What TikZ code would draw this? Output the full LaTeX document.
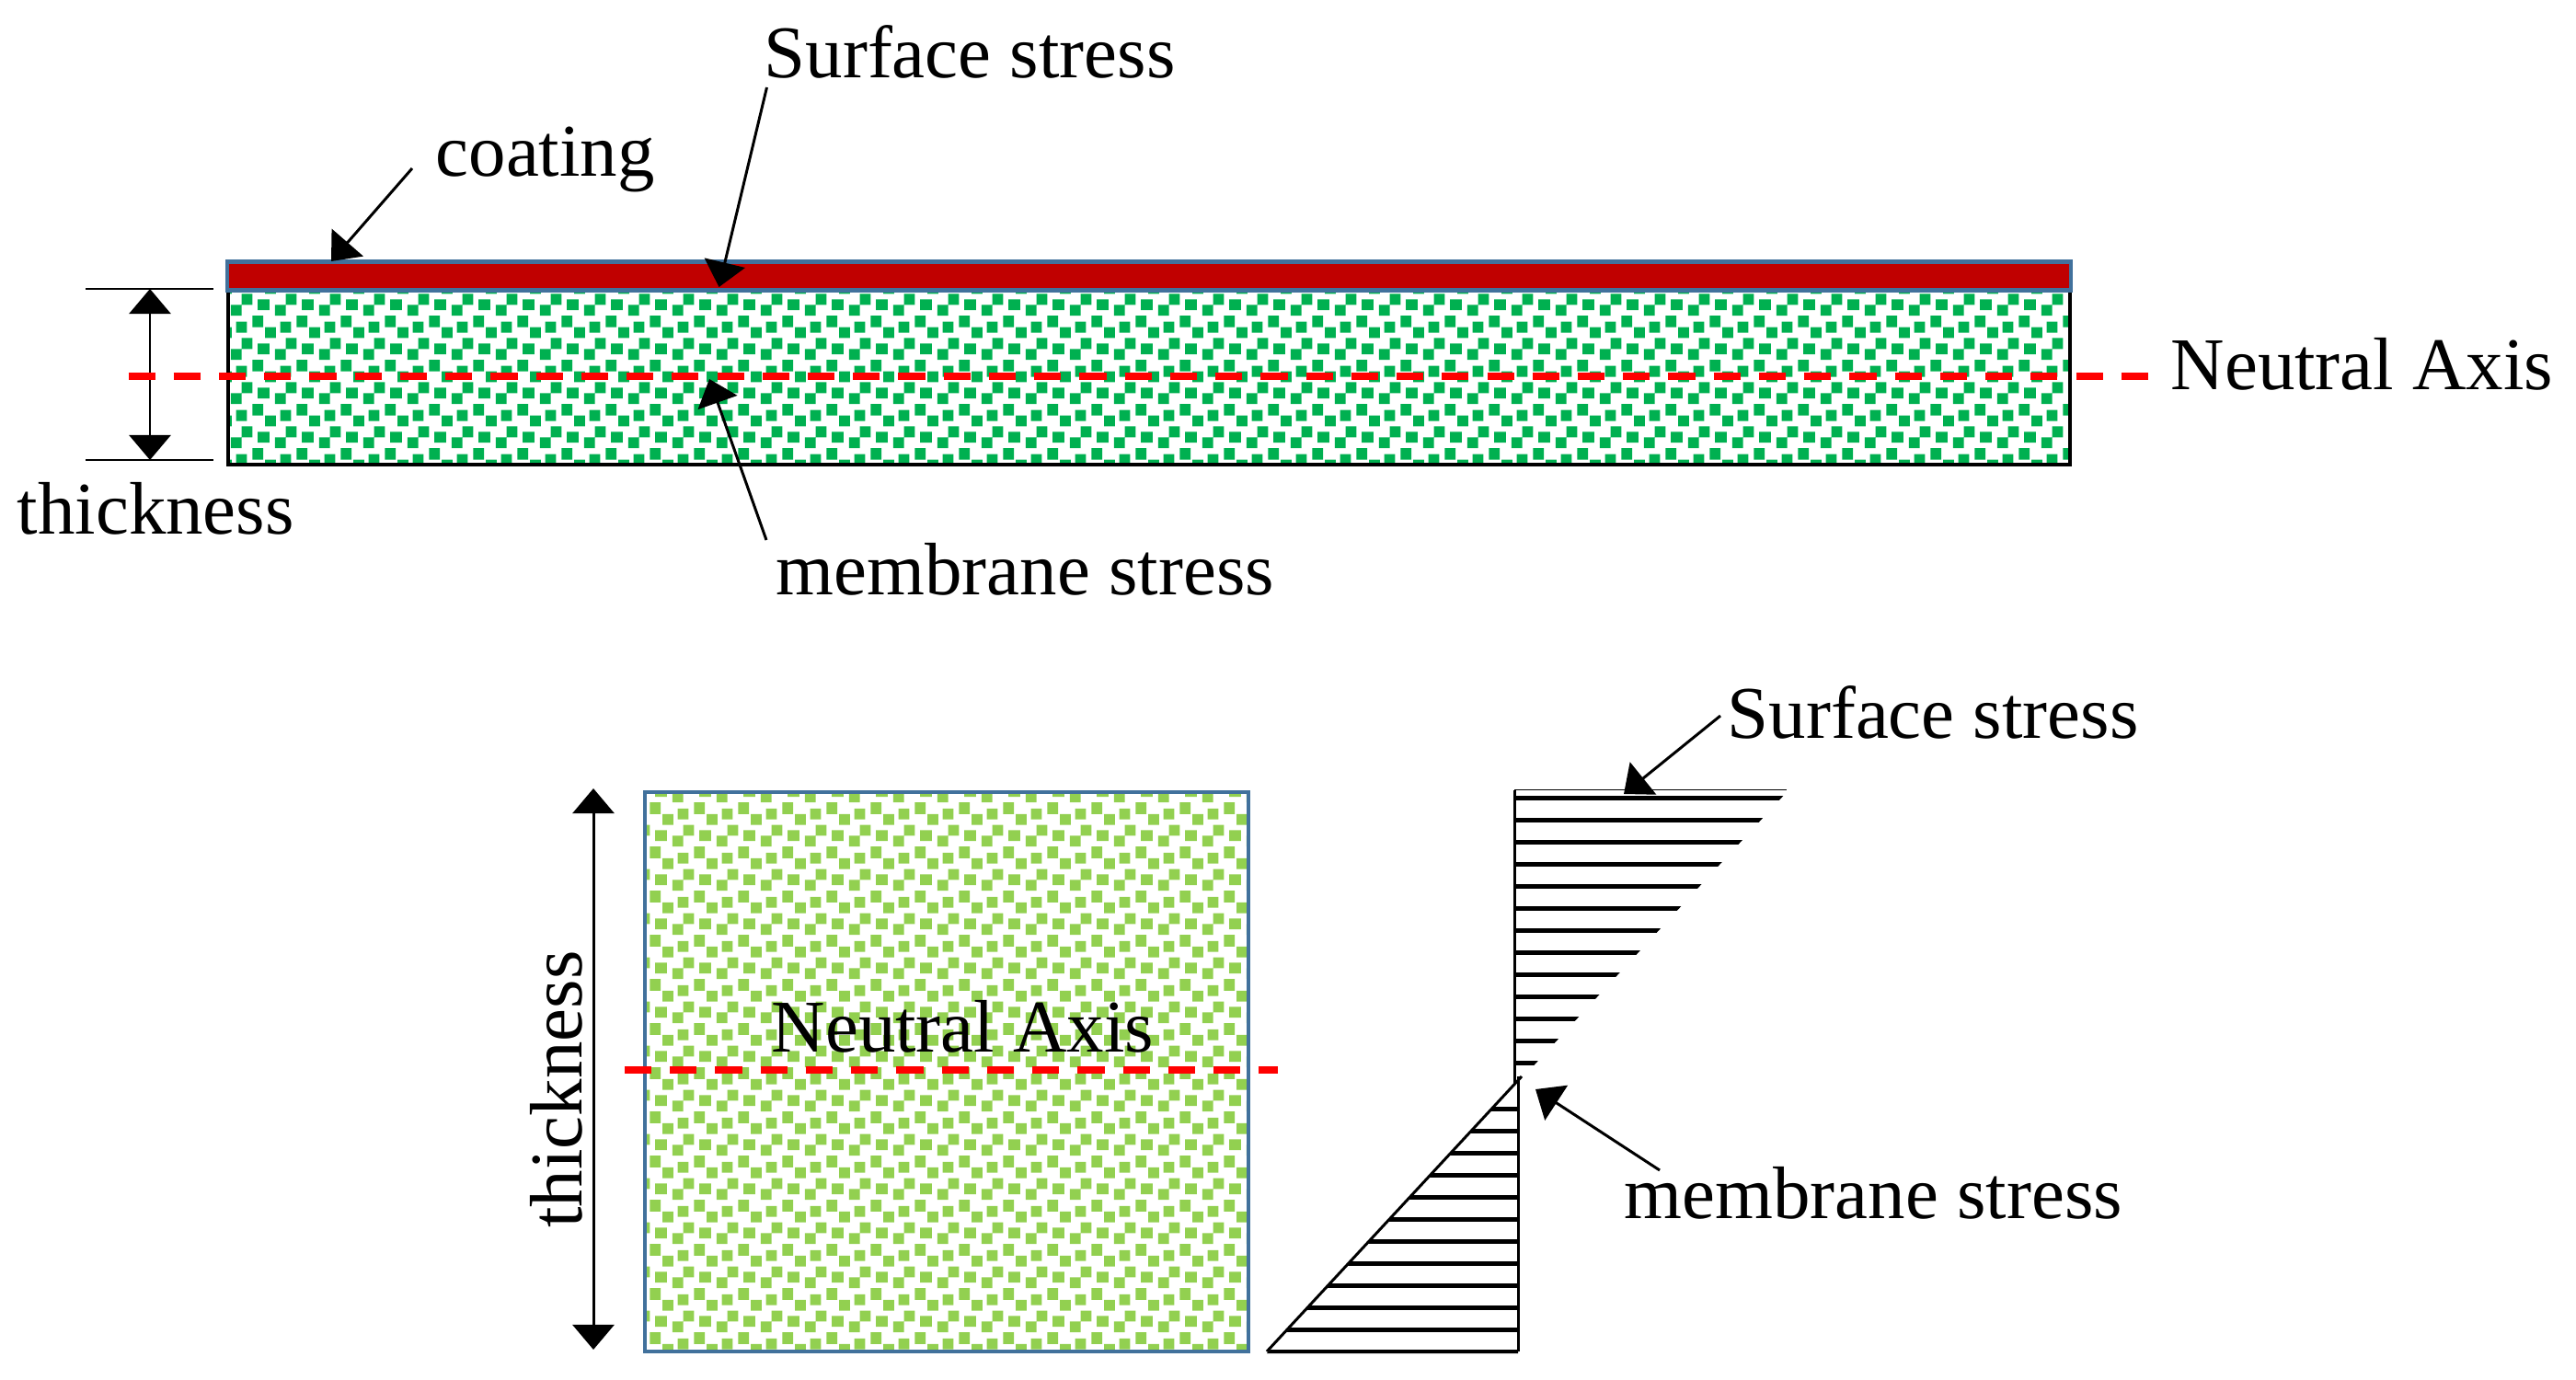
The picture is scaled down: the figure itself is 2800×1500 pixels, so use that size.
\documentclass[tikz,border=0pt]{standalone}
\usepackage{fontspec}
\setmainfont{Liberation Serif}
\usetikzlibrary{arrows.meta,patterns}
\definecolor{cgreen}{HTML}{00B050}
\definecolor{lgreen}{HTML}{92D050}
\definecolor{cred}{HTML}{C00000}
\definecolor{cblue}{HTML}{41719C}
\newdimen\cfpx \cfpx=0.28453pt
\pgfdeclarepatternformonly{confetti}{\pgfpointorigin}{\pgfpoint{48\cfpx}{48\cfpx}}{\pgfpoint{48\cfpx}{48\cfpx}}{%
  \pgfpathrectangle{\pgfpoint{0\cfpx}{29\cfpx}}{\pgfpoint{12\cfpx}{12\cfpx}}%
  \pgfpathrectangle{\pgfpoint{17\cfpx}{35\cfpx}}{\pgfpoint{12\cfpx}{12\cfpx}}%
  \pgfpathrectangle{\pgfpoint{35\cfpx}{-7\cfpx}}{\pgfpoint{12\cfpx}{12\cfpx}}%
  \pgfpathrectangle{\pgfpoint{35\cfpx}{41\cfpx}}{\pgfpoint{12\cfpx}{12\cfpx}}%
  \pgfpathrectangle{\pgfpoint{23\cfpx}{17\cfpx}}{\pgfpoint{12\cfpx}{12\cfpx}}%
  \pgfpathrectangle{\pgfpoint{41\cfpx}{11\cfpx}}{\pgfpoint{12\cfpx}{12\cfpx}}%
  \pgfpathrectangle{\pgfpoint{-7\cfpx}{11\cfpx}}{\pgfpoint{12\cfpx}{12\cfpx}}%
  \pgfpathrectangle{\pgfpoint{11\cfpx}{5\cfpx}}{\pgfpoint{12\cfpx}{12\cfpx}}%
  \pgfusepath{fill}}
\begin{document}
\begin{tikzpicture}[x=0.01cm,y=-0.01cm,
  lbl/.style={inner sep=0pt,anchor=base west,font=\fontsize{23}{27}\selectfont},
  ptr/.style={line width=0.85pt,-{Triangle[width=12.8pt,length=7.7pt]}},
  dimarrow/.style={line width=0.85pt,{Triangle[width=12.8pt,length=7.7pt]}-{Triangle[width=12.8pt,length=7.7pt]}},
  axisline/.style={draw=red,line width=2.1pt,dash pattern=on 8.3pt off 5.7pt},
  hatchline/.style={line width=1.42pt},
  thinline/.style={line width=0.85pt}]
\useasboundingbox (0,0) rectangle (2800,1500);

% ---------- top plate ----------
\fill[pattern=confetti,pattern color=cgreen] (248,318) rectangle (2250,505);
\draw[line width=1.1pt] (248,318) -- (248,505) -- (2250,505) -- (2250,318);
\draw[draw=cblue,fill=cred,line width=1.28pt] (247,284.5) rectangle (2251,315.5);

% thickness dimension (top)
\draw[line width=0.8pt] (93,314) -- (232,314);
\draw[line width=0.8pt] (93,500) -- (232,500);
\coordinate (t1a) at (163,314);
\coordinate (t1b) at (163,500);
\draw[dimarrow] (t1a) -- (t1b);

% neutral axis (top)
\coordinate (na1a) at (139.5,409);
\coordinate (na1b) at (2347,409);
\draw[axisline] (na1a) -- (na1b);

% labels (top)
\node[lbl] (coat) at (473,192) {coating};
\node[lbl] (surf1) at (830,85) {Surface stress};
\node[lbl] (neut1) at (2359,423) {Neutral Axis};
\node[lbl] (thick1) at (18,580) {thickness};
\node[lbl] (memb1) at (843,646) {membrane stress};

\coordinate (coatp) at (360,284);
\coordinate (surf1p) at (781.5,312);
\coordinate (memb1p) at (771,412);
\draw[ptr] ([shift={(-25,-9)}]coat.base west) -- (coatp);
\draw[ptr] ([shift={(3.5,10)}]surf1.base west) -- (surf1p);
\draw[ptr] ([shift={(-10,-59)}]memb1.base west) -- (memb1p);

% ---------- bottom block ----------
\fill[pattern=confetti,pattern color=lgreen] (701,861) rectangle (1357,1469);
\draw[draw=cblue,line width=1.1pt] (701,861) rectangle (1357,1469);

\coordinate (t2a) at (645,857);
\coordinate (t2b) at (645,1467);
\draw[dimarrow] (t2a) -- (t2b);
\node[inner sep=0pt,anchor=base,rotate=90,font=\fontsize{23}{27}\selectfont] (thick2) at (632,1184) {thickness};

\coordinate (na2a) at (679,1163);
\coordinate (na2b) at (1389,1163);
\draw[axisline] (na2a) -- (na2b);
\node[lbl] (neut2) at (838,1143) {Neutral Axis};

% ---------- stress distribution ----------
% upper triangle
\begin{scope}
  \clip (1646,860) -- (1943,860) -- (1646,1181) -- cycle;
  \foreach \k in {0,...,12} {
    \draw[hatchline] (1640,867.7+24*\k) -- (1960,867.7+24*\k);
  }
\end{scope}
\draw[line width=0.5pt] (1646,858.5) -- (1942,858.5);
\draw[thinline] (1646,858.5) -- (1646,1178);

% lower triangle
\begin{scope}
  \clip (1654,1170) -- (1650,1170) -- (1650,1471) -- (1377,1471) -- cycle;
  \foreach \k in {0,...,11} {
    \draw[hatchline] (1360,1205+24*\k) -- (1660,1205+24*\k);
  }
\end{scope}
\draw[thinline] (1650,1170) -- (1650,1469);
\draw[thinline] (1654,1170) -- (1377,1469);

\node[lbl] (surf2) at (1877,802) {Surface stress};
\node[lbl] (memb2) at (1765,1324) {membrane stress};
\coordinate (surf2p) at (1765,863);
\coordinate (memb2p) at (1669,1184);
\draw[ptr] ([shift={(-7,-24)}]surf2.base west) -- (surf2p);
\draw[ptr] ([shift={(39,-52)}]memb2.base west) -- (memb2p);
\end{tikzpicture}
\end{document}
